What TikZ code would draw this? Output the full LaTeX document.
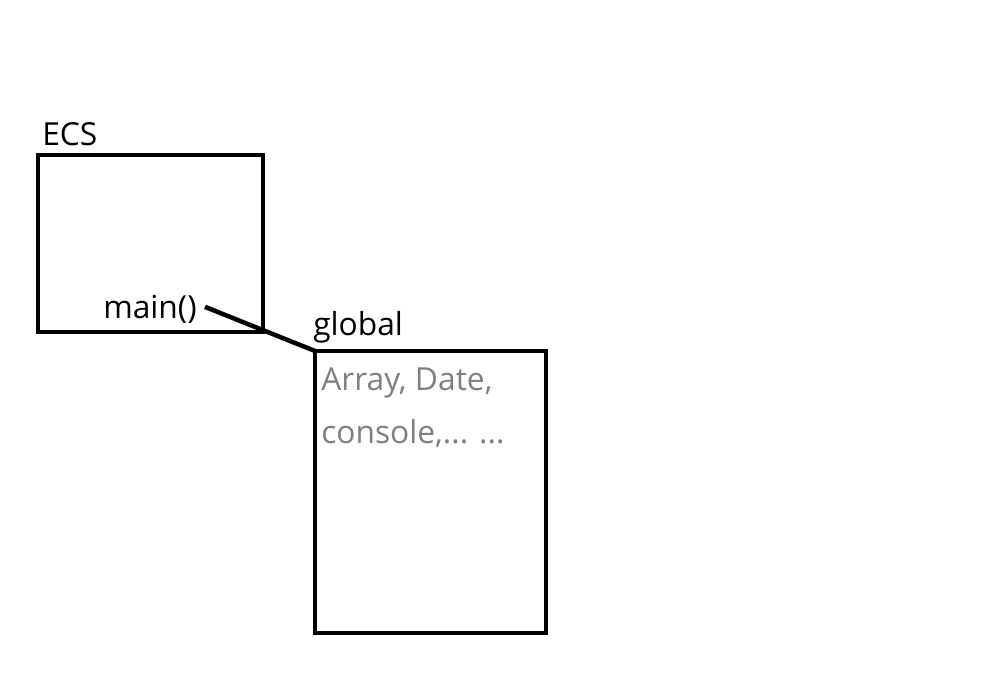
\documentclass[tikz,border=0pt]{standalone}
\usepackage{fontspec}
\setmainfont{Open Sans}
\usetikzlibrary{positioning,calc}
\tikzset{
    every node/.style={font=\fontsize{23.8}{28}\selectfont, inner sep=0pt},
    scopebox/.style={draw=black, line width=3.6pt, outer sep=0pt, anchor=north west},
    boxlabel/.style={anchor=base west},
    greytext/.style={anchor=base west, text=gray, align=left},
    link/.style={line width=3.4pt},
}
\begin{document}
\begin{tikzpicture}[x=0.75pt, y=-0.75pt]
  \useasboundingbox (0,0) rectangle (996,685);
  % the two scopes
  \node[scopebox, minimum width=225*0.75pt, minimum height=177*0.75pt] (ecs) at (38,155) {};
  \node[scopebox, minimum width=231*0.75pt, minimum height=282*0.75pt] (global) at (315,351) {};
  % labels above the boxes
  \node[boxlabel] (ecslabel) at (42,145) {ECS};
  \node[boxlabel] (globallabel) at (313,335) {global};
  % contents
  \node[boxlabel] (main) at (103,318) {main()};
  \node[greytext] (builtins) at (321,390) {Array, Date,};
  \node[greytext] (builtins2) at (321,443) {console,... ...};
  \draw[link] ($(main.east)+(8,-2)$) -- (global.north west);
\end{tikzpicture}
\end{document}
